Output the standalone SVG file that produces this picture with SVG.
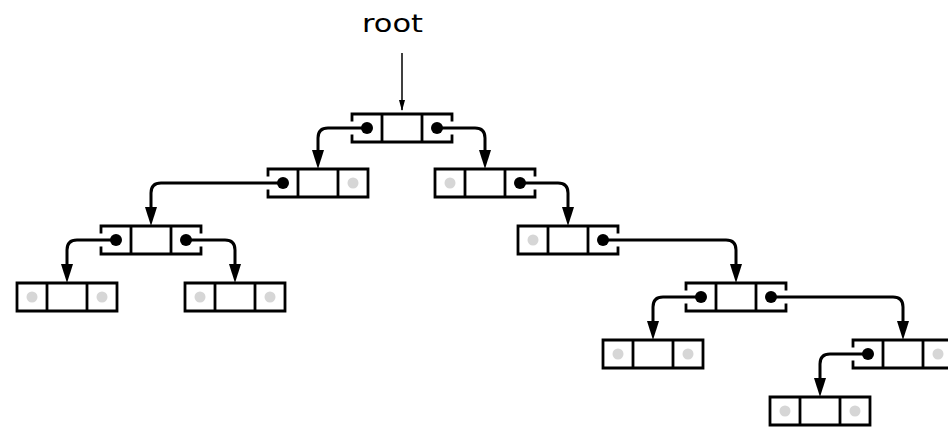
<svg xmlns="http://www.w3.org/2000/svg" width="948" height="429" viewBox="0 0 948 429">
<style>
.bg{fill:#fff;stroke:none}
.frame{fill:none;stroke:#000;stroke-width:2.8;stroke-linecap:square}
.ptr{fill:#000}
.nil{fill:#d6d6d6}
.link{fill:none;stroke:#000;stroke-width:3}
.entry{fill:none;stroke:#000;stroke-width:1.5}
.label{font-family:"DejaVu Sans",sans-serif;font-size:25px;fill:#000}
</style>
<defs>
<marker id="head" viewBox="0 0 19 12" refX="11" refY="6" markerWidth="19" markerHeight="12" markerUnits="userSpaceOnUse" orient="auto">
<path d="M0,0L19,6L0,12z" fill="#000"/>
</marker>
<marker id="thin" viewBox="0 0 11 6" refX="10" refY="3" markerWidth="11" markerHeight="6" markerUnits="userSpaceOnUse" orient="auto">
<path d="M0,0L11,3L0,6z" fill="#000"/>
</marker>
</defs>
<rect width="948" height="429" fill="#fff"/>
<text class="label" x="362" y="32" textLength="61" lengthAdjust="spacingAndGlyphs">root</text>
<g id="root" transform="translate(352,114)">
<rect class="bg" width="100" height="28"/>
<path class="frame" d="M0,0H100M0,28H100M30,0V28M70,0V28M0,0V6M0,22V28M100,0V6M100,22V28"/>
<circle class="ptr" cx="15" cy="14" r="6"/><circle class="ptr" cx="85" cy="14" r="6"/>
</g>
<g id="nodeB" transform="translate(268,169)">
<rect class="bg" width="100" height="28"/>
<path class="frame" d="M0,0H100M0,28H100M30,0V28M70,0V28M0,0V6M0,22V28M100,0V28"/>
<circle class="ptr" cx="15" cy="14" r="6"/><circle class="nil" cx="85" cy="14" r="5.5"/>
</g>
<g id="nodeC" transform="translate(435,169)">
<rect class="bg" width="100" height="28"/>
<path class="frame" d="M0,0H100M0,28H100M30,0V28M70,0V28M0,0V28M100,0V6M100,22V28"/>
<circle class="nil" cx="15" cy="14" r="5.5"/><circle class="ptr" cx="85" cy="14" r="6"/>
</g>
<g id="nodeD" transform="translate(101,226)">
<rect class="bg" width="100" height="28"/>
<path class="frame" d="M0,0H100M0,28H100M30,0V28M70,0V28M0,0V6M0,22V28M100,0V6M100,22V28"/>
<circle class="ptr" cx="15" cy="14" r="6"/><circle class="ptr" cx="85" cy="14" r="6"/>
</g>
<g id="nodeE" transform="translate(17,283)">
<rect class="bg" width="100" height="28"/>
<path class="frame" d="M0,0H100M0,28H100M30,0V28M70,0V28M0,0V28M100,0V28"/>
<circle class="nil" cx="15" cy="14" r="5.5"/><circle class="nil" cx="85" cy="14" r="5.5"/>
</g>
<g id="nodeF" transform="translate(185,283)">
<rect class="bg" width="100" height="28"/>
<path class="frame" d="M0,0H100M0,28H100M30,0V28M70,0V28M0,0V28M100,0V28"/>
<circle class="nil" cx="15" cy="14" r="5.5"/><circle class="nil" cx="85" cy="14" r="5.5"/>
</g>
<g id="nodeG" transform="translate(518,226)">
<rect class="bg" width="100" height="28"/>
<path class="frame" d="M0,0H100M0,28H100M30,0V28M70,0V28M0,0V28M100,0V6M100,22V28"/>
<circle class="nil" cx="15" cy="14" r="5.5"/><circle class="ptr" cx="85" cy="14" r="6"/>
</g>
<g id="nodeH" transform="translate(686,283)">
<rect class="bg" width="100" height="28"/>
<path class="frame" d="M0,0H100M0,28H100M30,0V28M70,0V28M0,0V6M0,22V28M100,0V6M100,22V28"/>
<circle class="ptr" cx="15" cy="14" r="6"/><circle class="ptr" cx="85" cy="14" r="6"/>
</g>
<g id="nodeI" transform="translate(603,340)">
<rect class="bg" width="100" height="28"/>
<path class="frame" d="M0,0H100M0,28H100M30,0V28M70,0V28M0,0V28M100,0V28"/>
<circle class="nil" cx="15" cy="14" r="5.5"/><circle class="nil" cx="85" cy="14" r="5.5"/>
</g>
<g id="nodeJ" transform="translate(853,340)">
<rect class="bg" width="100" height="28"/>
<path class="frame" d="M0,0H100M0,28H100M30,0V28M70,0V28M0,0V6M0,22V28M100,0V28"/>
<circle class="ptr" cx="15" cy="14" r="6"/><circle class="nil" cx="85" cy="14" r="5.5"/>
</g>
<g id="nodeK" transform="translate(770,397)">
<rect class="bg" width="100" height="28"/>
<path class="frame" d="M0,0H100M0,28H100M30,0V28M70,0V28M0,0V28M100,0V28"/>
<circle class="nil" cx="15" cy="14" r="5.5"/><circle class="nil" cx="85" cy="14" r="5.5"/>
</g>
<g id="connectors">
<path class="entry" d="M402,53V110" marker-end="url(#thin)"/>
<path class="link" d="M367,128H328Q318,128 318,138V161" marker-end="url(#head)"/>
<path class="link" d="M437,128H475Q485,128 485,138V161" marker-end="url(#head)"/>
<path class="link" d="M283,183H161Q151,183 151,193V218" marker-end="url(#head)"/>
<path class="link" d="M520,183H558Q568,183 568,193V218" marker-end="url(#head)"/>
<path class="link" d="M116,240H77Q67,240 67,250V275" marker-end="url(#head)"/>
<path class="link" d="M186,240H225Q235,240 235,250V275" marker-end="url(#head)"/>
<path class="link" d="M603,240H726Q736,240 736,250V275" marker-end="url(#head)"/>
<path class="link" d="M701,297H663Q653,297 653,307V332" marker-end="url(#head)"/>
<path class="link" d="M771,297H893Q903,297 903,307V332" marker-end="url(#head)"/>
<path class="link" d="M868,354H830Q820,354 820,364V389" marker-end="url(#head)"/>
</g>
</svg>
